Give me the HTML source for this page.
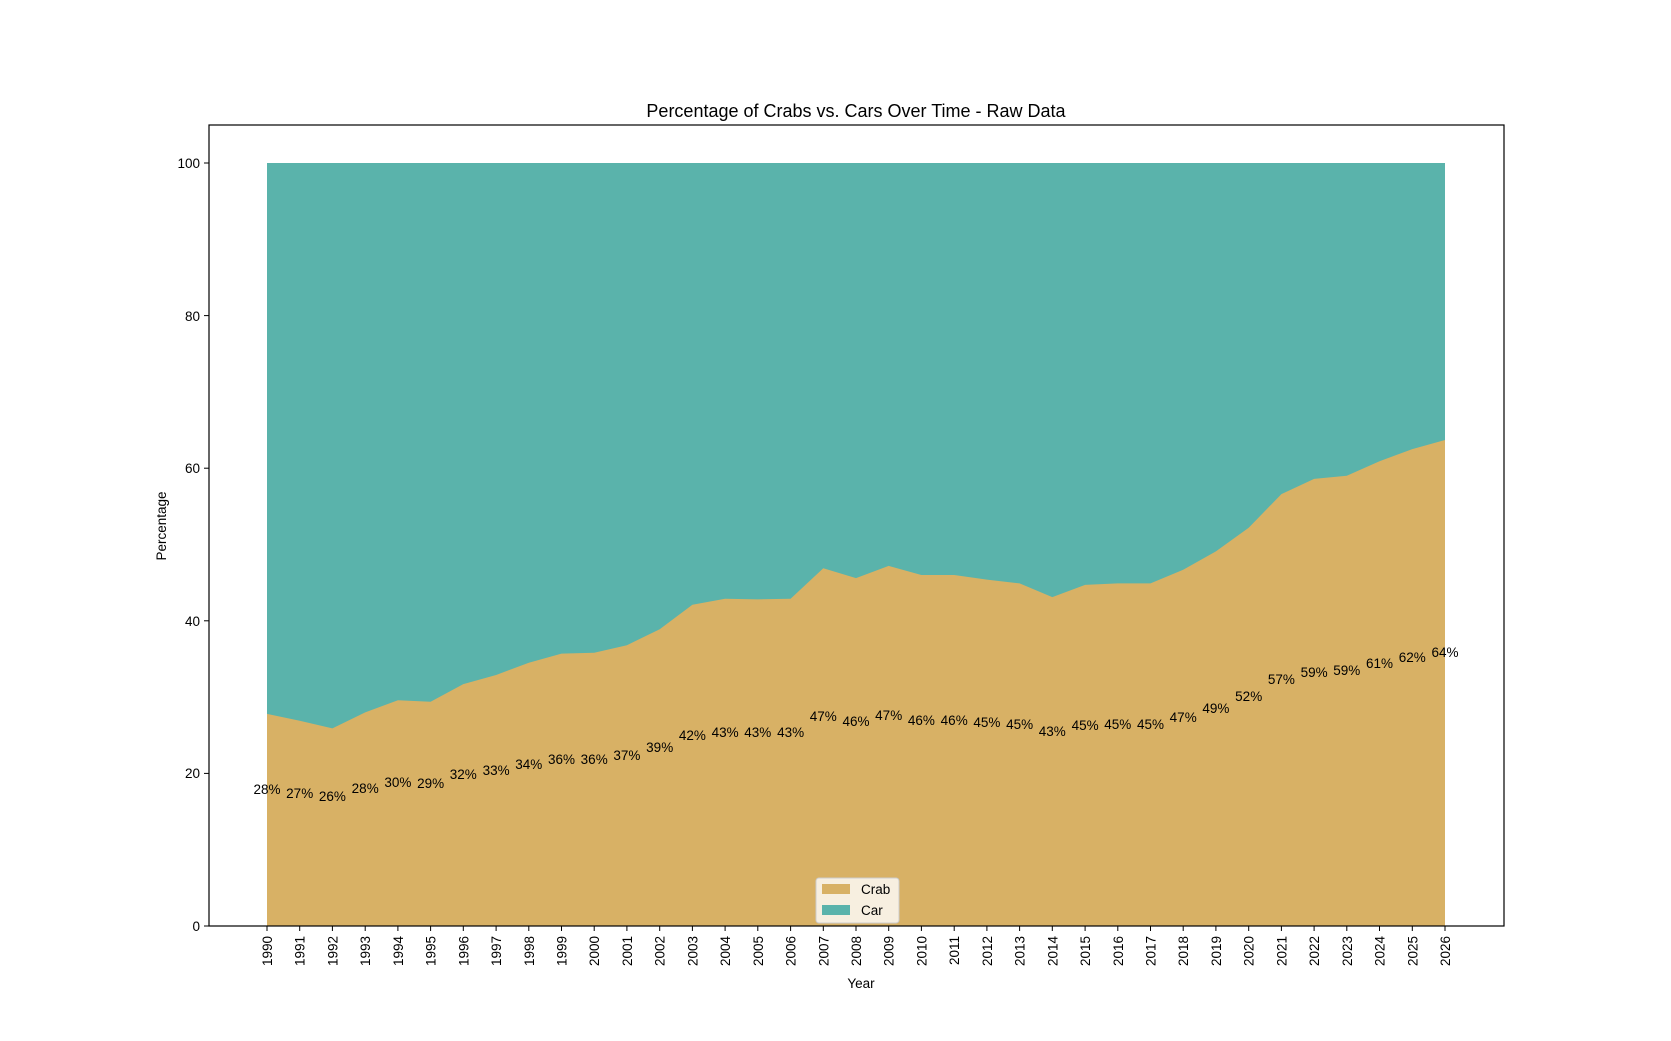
<!DOCTYPE html><html><head><style>body{margin:0;background:#fff}svg{font-family:"Liberation Sans","DejaVu Sans",sans-serif;display:block}</style></head><body>
<svg width="1671" height="1041" xmlns="http://www.w3.org/2000/svg">
<rect x="267" y="163" width="1178" height="763" fill="#5ab3ab"/>
<polygon fill="#d8b165" points="267,926 267,713.9 299.7,720.8 332.4,728.4 365.2,712.4 397.9,700.2 430.6,701.7 463.3,684.1 496.1,675 528.8,662.8 561.5,653.6 594.2,652.8 626.9,645.2 659.7,629.2 692.4,604.8 725.1,598.7 757.8,599.4 790.6,598.7 823.3,568.2 856,578.1 888.7,565.9 921.4,575 954.2,575 986.9,579.6 1019.6,583.4 1052.3,597.1 1085.1,584.9 1117.8,583.4 1150.5,583.4 1183.2,569.7 1215.9,551.4 1248.7,527.7 1281.4,494.1 1314.1,478.9 1346.8,475.8 1379.5,461.3 1412.3,449.1 1445,440 1445,926"/>
<g font-size="13.5" text-anchor="middle" transform="translate(0,-4)">
<text x="267" y="798">28%</text><text x="299.7" y="802">27%</text><text x="332.4" y="805">26%</text><text x="365.2" y="797">28%</text><text x="397.9" y="791">30%</text><text x="430.6" y="792">29%</text><text x="463.3" y="783">32%</text><text x="496.1" y="779">33%</text><text x="528.8" y="773">34%</text><text x="561.5" y="768">36%</text><text x="594.2" y="768">36%</text><text x="626.9" y="764">37%</text><text x="659.7" y="756">39%</text><text x="692.4" y="744">42%</text><text x="725.1" y="741">43%</text><text x="757.8" y="741">43%</text><text x="790.6" y="741">43%</text><text x="823.3" y="725">47%</text><text x="856" y="730">46%</text><text x="888.7" y="724">47%</text><text x="921.4" y="729">46%</text><text x="954.2" y="729">46%</text><text x="986.9" y="731">45%</text><text x="1019.6" y="733">45%</text><text x="1052.3" y="740">43%</text><text x="1085.1" y="734">45%</text><text x="1117.8" y="733">45%</text><text x="1150.5" y="733">45%</text><text x="1183.2" y="726">47%</text><text x="1215.9" y="717">49%</text><text x="1248.7" y="705">52%</text><text x="1281.4" y="688">57%</text><text x="1314.1" y="681">59%</text><text x="1346.8" y="679">59%</text><text x="1379.5" y="672">61%</text><text x="1412.3" y="666">62%</text><text x="1445" y="661">64%</text>
</g>
<g stroke="#000">
<line x1="267" x2="267" y1="926" y2="931"/><line x1="299.7" x2="299.7" y1="926" y2="931"/><line x1="332.4" x2="332.4" y1="926" y2="931"/><line x1="365.2" x2="365.2" y1="926" y2="931"/><line x1="397.9" x2="397.9" y1="926" y2="931"/><line x1="430.6" x2="430.6" y1="926" y2="931"/><line x1="463.3" x2="463.3" y1="926" y2="931"/><line x1="496.1" x2="496.1" y1="926" y2="931"/><line x1="528.8" x2="528.8" y1="926" y2="931"/><line x1="561.5" x2="561.5" y1="926" y2="931"/><line x1="594.2" x2="594.2" y1="926" y2="931"/><line x1="626.9" x2="626.9" y1="926" y2="931"/><line x1="659.7" x2="659.7" y1="926" y2="931"/><line x1="692.4" x2="692.4" y1="926" y2="931"/><line x1="725.1" x2="725.1" y1="926" y2="931"/><line x1="757.8" x2="757.8" y1="926" y2="931"/><line x1="790.6" x2="790.6" y1="926" y2="931"/><line x1="823.3" x2="823.3" y1="926" y2="931"/><line x1="856" x2="856" y1="926" y2="931"/><line x1="888.7" x2="888.7" y1="926" y2="931"/><line x1="921.4" x2="921.4" y1="926" y2="931"/><line x1="954.2" x2="954.2" y1="926" y2="931"/><line x1="986.9" x2="986.9" y1="926" y2="931"/><line x1="1019.6" x2="1019.6" y1="926" y2="931"/><line x1="1052.3" x2="1052.3" y1="926" y2="931"/><line x1="1085.1" x2="1085.1" y1="926" y2="931"/><line x1="1117.8" x2="1117.8" y1="926" y2="931"/><line x1="1150.5" x2="1150.5" y1="926" y2="931"/><line x1="1183.2" x2="1183.2" y1="926" y2="931"/><line x1="1215.9" x2="1215.9" y1="926" y2="931"/><line x1="1248.7" x2="1248.7" y1="926" y2="931"/><line x1="1281.4" x2="1281.4" y1="926" y2="931"/><line x1="1314.1" x2="1314.1" y1="926" y2="931"/><line x1="1346.8" x2="1346.8" y1="926" y2="931"/><line x1="1379.5" x2="1379.5" y1="926" y2="931"/><line x1="1412.3" x2="1412.3" y1="926" y2="931"/><line x1="1445" x2="1445" y1="926" y2="931"/>
<line x1="204" x2="209" y1="926" y2="926"/><line x1="204" x2="209" y1="773.4" y2="773.4"/><line x1="204" x2="209" y1="620.8" y2="620.8"/><line x1="204" x2="209" y1="468.2" y2="468.2"/><line x1="204" x2="209" y1="315.6" y2="315.6"/><line x1="204" x2="209" y1="163" y2="163"/>
</g>
<g font-size="13.5" text-anchor="end">
<text x="200" y="931">0</text><text x="200" y="778">20</text><text x="200" y="626">40</text><text x="200" y="473">60</text><text x="200" y="321">80</text><text x="200" y="168">100</text>
<text transform="translate(272,936) rotate(-90)">1990</text><text transform="translate(304.7,936) rotate(-90)">1991</text><text transform="translate(337.4,936) rotate(-90)">1992</text><text transform="translate(370.2,936) rotate(-90)">1993</text><text transform="translate(402.9,936) rotate(-90)">1994</text><text transform="translate(435.6,936) rotate(-90)">1995</text><text transform="translate(468.3,936) rotate(-90)">1996</text><text transform="translate(501.1,936) rotate(-90)">1997</text><text transform="translate(533.8,936) rotate(-90)">1998</text><text transform="translate(566.5,936) rotate(-90)">1999</text><text transform="translate(599.2,936) rotate(-90)">2000</text><text transform="translate(631.9,936) rotate(-90)">2001</text><text transform="translate(664.7,936) rotate(-90)">2002</text><text transform="translate(697.4,936) rotate(-90)">2003</text><text transform="translate(730.1,936) rotate(-90)">2004</text><text transform="translate(762.8,936) rotate(-90)">2005</text><text transform="translate(795.6,936) rotate(-90)">2006</text><text transform="translate(828.3,936) rotate(-90)">2007</text><text transform="translate(861,936) rotate(-90)">2008</text><text transform="translate(893.7,936) rotate(-90)">2009</text><text transform="translate(926.4,936) rotate(-90)">2010</text><text transform="translate(959.2,936) rotate(-90)">2011</text><text transform="translate(991.9,936) rotate(-90)">2012</text><text transform="translate(1024.6,936) rotate(-90)">2013</text><text transform="translate(1057.3,936) rotate(-90)">2014</text><text transform="translate(1090.1,936) rotate(-90)">2015</text><text transform="translate(1122.8,936) rotate(-90)">2016</text><text transform="translate(1155.5,936) rotate(-90)">2017</text><text transform="translate(1188.2,936) rotate(-90)">2018</text><text transform="translate(1220.9,936) rotate(-90)">2019</text><text transform="translate(1253.7,936) rotate(-90)">2020</text><text transform="translate(1286.4,936) rotate(-90)">2021</text><text transform="translate(1319.1,936) rotate(-90)">2022</text><text transform="translate(1351.8,936) rotate(-90)">2023</text><text transform="translate(1384.5,936) rotate(-90)">2024</text><text transform="translate(1417.3,936) rotate(-90)">2025</text><text transform="translate(1450,936) rotate(-90)">2026</text>
</g>
<rect x="209" y="125" width="1295" height="801" fill="none" stroke="#000" stroke-width="1.2"/>
<text x="856" y="117" font-size="18" text-anchor="middle">Percentage of Crabs vs. Cars Over Time - Raw Data</text>
<text x="861" y="988" font-size="13.5" text-anchor="middle">Year</text>
<text transform="translate(166,526) rotate(-90)" font-size="13.5" text-anchor="middle">Percentage</text>
<rect x="816" y="878" width="83" height="45" rx="3" fill="#fff" fill-opacity="0.8" stroke="#ccc"/>
<rect x="822" y="884" width="28" height="10" fill="#d8b165"/><text x="861" y="894" font-size="13.5">Crab</text>
<rect x="822" y="905" width="28" height="10" fill="#5ab3ab"/><text x="861" y="915" font-size="13.5">Car</text>
</svg>
</body></html>
